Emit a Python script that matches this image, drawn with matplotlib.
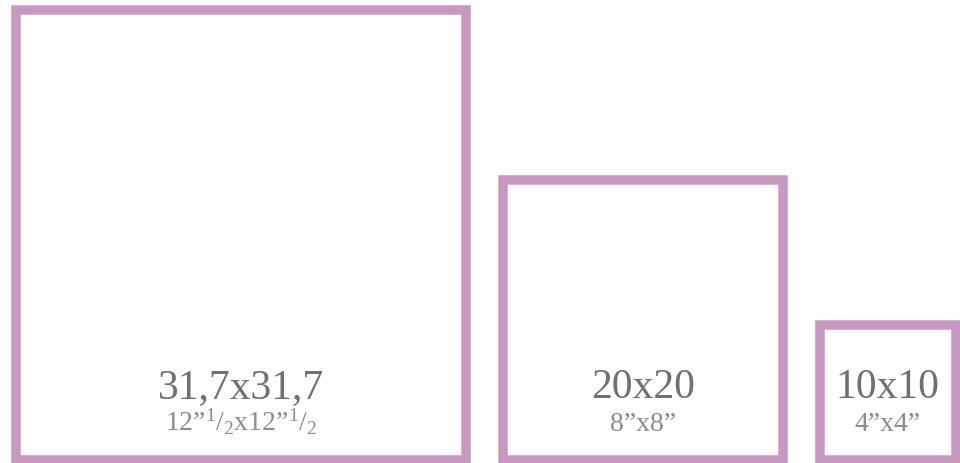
import matplotlib
matplotlib.use("Agg")
import matplotlib.pyplot as plt
from matplotlib.patches import Rectangle

# Data
sizes_cm = [31.7, 20, 10]
labels_cm = ["31,7x31,7", "20x20", "10x10"]
labels_in = ["12”$^{1}$/$_{2}$x12”$^{1}$/$_{2}$", "8”x8”", "4”x4”"]

plt.rcParams['mathtext.fontset'] = 'custom'
plt.rcParams['mathtext.rm'] = 'Liberation Serif'
plt.rcParams['mathtext.it'] = 'Liberation Serif'
plt.rcParams['mathtext.default'] = 'rm'

W, H = 960, 463
fig = plt.figure(figsize=(W / 100, H / 100), dpi=100)
ax = fig.add_axes([0, 0, 1, 1])
ax.set_xlim(0, W)
ax.set_ylim(H, 0)
ax.axis('off')

scale = 14.51       # px per cm
stroke = 9.5        # px
left = 11
gap = 27
bottom = 465
color = '#c998c1'
lw_pt = stroke * 72 / 100

x = left
for s, l1, l2 in zip(sizes_cm, labels_cm, labels_in):
    side = s * scale
    rect = Rectangle((x + stroke / 2, bottom - side + stroke / 2),
                     side - stroke, side - stroke,
                     fill=False, edgecolor=color, linewidth=lw_pt,
                     joinstyle='miter', clip_on=False)
    ax.add_patch(rect)
    cx = x + side / 2
    ax.text(cx, 398, l1, ha='center', va='baseline', fontsize=30,
            family='Liberation Serif', color='#707070')
    ax.text(cx, 431, l2, ha='center', va='baseline', fontsize=20,
            family='Liberation Serif', color='#8c8c8c')
    x += side + gap

fig.savefig("out.png", dpi=100, facecolor='white')
